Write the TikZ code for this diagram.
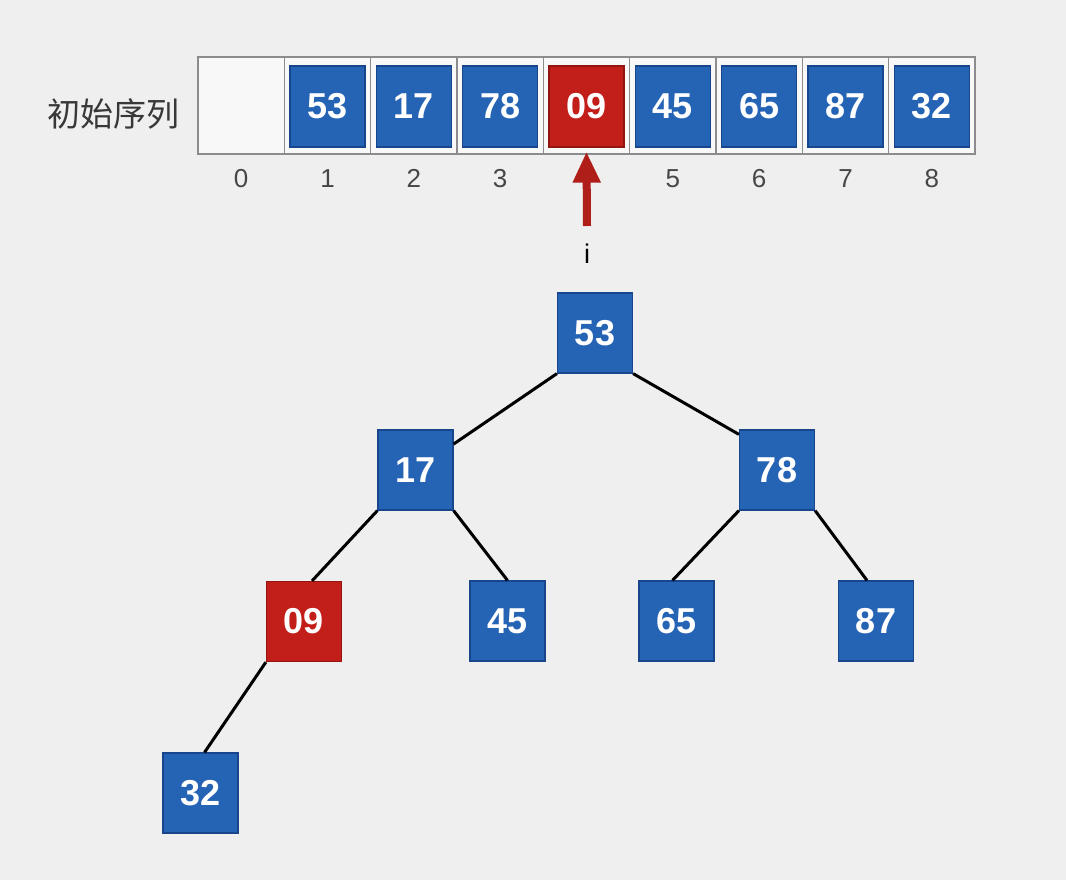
\documentclass[tikz,border=0pt]{standalone}
\usepackage{fontspec}
\setmainfont{Liberation Sans}
\newfontfamily\cjk{Noto Sans CJK SC}
\usetikzlibrary{arrows.meta}
\definecolor{bg}{HTML}{EFEFEF}
\definecolor{bluefill}{HTML}{2563B4}
\definecolor{blueline}{HTML}{17468C}
\definecolor{redfill}{HTML}{C21F1A}
\definecolor{redline}{HTML}{921510}
\definecolor{cellline}{HTML}{8C8C8C}
\definecolor{cellfill}{HTML}{F8F8F8}
\definecolor{arrowred}{HTML}{B01E1A}
\tikzset{
  cellbox/.style={draw=cellline, line width=1.2pt, fill=cellfill, minimum width=86.33pt, minimum height=97pt, inner sep=0pt},
  keybox/.style={draw=blueline, line width=1.2pt, fill=bluefill, minimum width=75pt, minimum height=81pt, inner sep=0pt,
    text=white, font=\fontsize{36}{40}\selectfont\bfseries},
  redkey/.style={keybox, draw=redline, fill=redfill},
  idx/.style={text=black!72, font=\fontsize{26}{30}\selectfont, inner sep=0pt, anchor=base},
  edge/.style={line width=3pt, black}
}
\begin{document}
\begin{tikzpicture}[x=1pt, y=-1pt]
\fill[bg] (0,0) rectangle (1066,880);
\useasboundingbox (0,0) rectangle (1066,880);

% label
\node[text=black!78, font=\cjk\fontsize{33}{36}\selectfont, inner sep=0pt] (lab) at (113,114) {初始序列};

% array cells
\foreach \k in {0,...,8} {
  \node[cellbox] (c\k) at ({198+(\k+0.5)*86.33},105.5) {};
}
% keys in array
\node[keybox] (a1) at ([yshift=-1pt]c1) {53};
\node[keybox] (a2) at ([yshift=-1pt]c2) {17};
\node[keybox] (a3) at ([yshift=-1pt]c3) {78};
\node[redkey] (a4) at ([yshift=-1pt]c4) {09};
\node[keybox] (a5) at ([yshift=-1pt]c5) {45};
\node[keybox] (a6) at ([yshift=-1pt]c6) {65};
\node[keybox] (a7) at ([yshift=-1pt]c7) {87};
\node[keybox] (a8) at ([yshift=-1pt]c8) {32};

% indices
\foreach \k in {0,1,2,3,5,6,7,8} {
  \node[idx] (n\k) at ({198+(\k+0.5)*86.33},187) {\k};
}

% pointer
\node[text=black, font=\fontsize{27}{30}\selectfont, inner sep=0pt] (i) at (587,254) {i};
\coordinate (abase) at (587,226);
\draw[arrowred, line width=8pt, -{Triangle[width=26pt,length=31pt]}] (abase) -- ([yshift=3pt]c4.south);

% tree
\node[keybox, minimum height=80pt] (t53) at (595,333) {53};
\node[keybox, minimum height=80pt] (t17) at (415.5,470) {17};
\node[keybox, minimum height=80pt] (t78) at (777,470) {78};
\node[redkey, minimum height=80pt] (t09) at (304,621.5) {09};
\node[keybox, minimum height=80pt] (t45) at (507.5,621) {45};
\node[keybox, minimum height=80pt] (t65) at (676.5,621) {65};
\node[keybox, minimum height=80pt] (t87) at (876,621) {87};
\node[keybox, minimum height=80pt] (t32) at (200.5,793) {32};

\draw[edge] (t53.south west) -- (t17);
\draw[edge] (t53.south east) -- ([yshift=-5pt]t78.north west);
\draw[edge] (t17.south west) -- ([xshift=8pt]t09.north);
\draw[edge] (t17.south east) -- (t45.north);
\draw[edge] (t78.south west) -- ([xshift=-4pt]t65.north);
\draw[edge] (t78.south east) -- ([xshift=-9pt]t87.north);
\draw[edge] (t09.south west) -- ([xshift=4pt]t32.north);
\end{tikzpicture}
\end{document}
